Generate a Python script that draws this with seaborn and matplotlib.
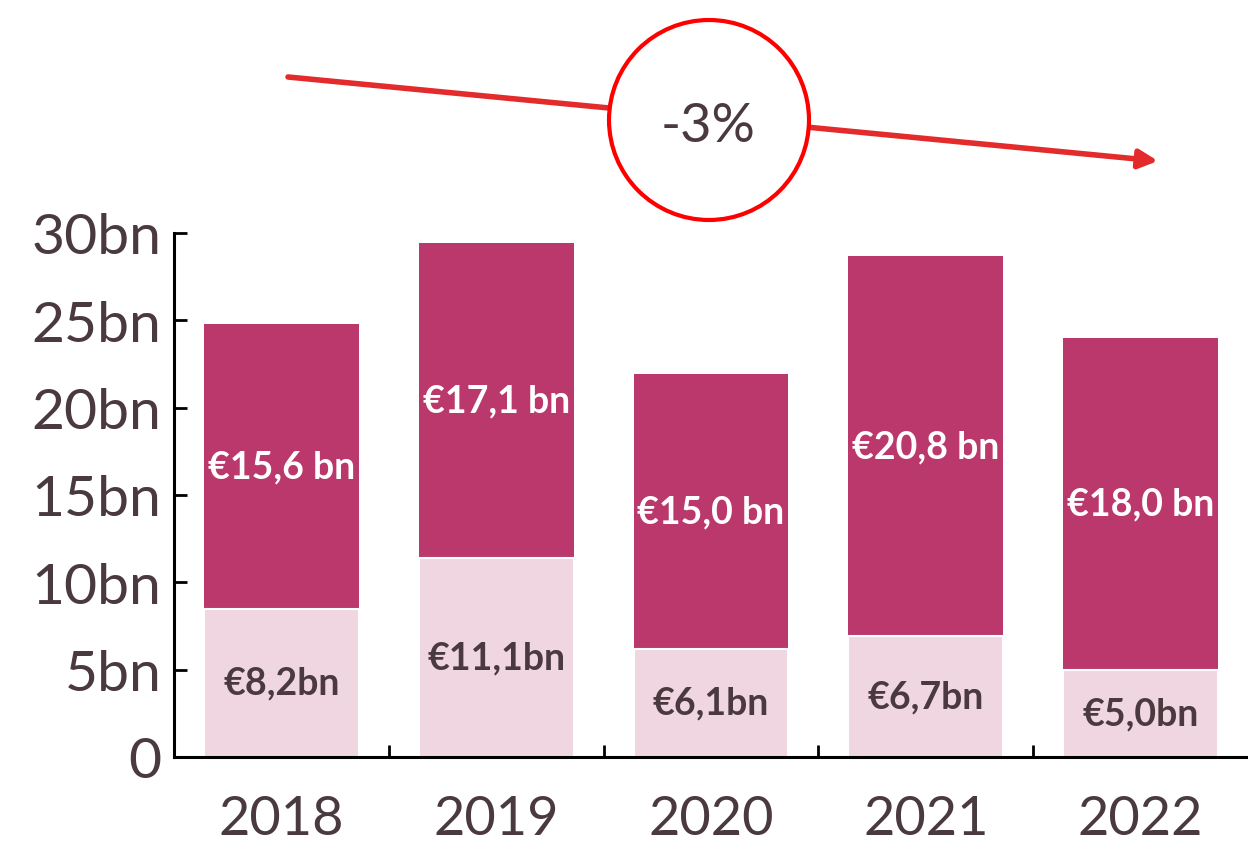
import matplotlib
matplotlib.use("Agg")
import matplotlib.pyplot as plt
import seaborn as sns
import pandas as pd
from matplotlib.patches import Ellipse

# data
years = ["2018", "2019", "2020", "2021", "2022"]
lower_vals = [8.5, 11.4, 6.2, 6.9, 5.0]
upper_vals = [16.3, 18.0, 15.7, 21.8, 19.0]
lower_labels = ["€8,2bn", "€11,1bn", "€6,1bn", "€6,7bn", "€5,0bn"]
upper_labels = ["€15,6 bn", "€17,1 bn", "€15,0 bn", "€20,8 bn", "€18,0 bn"]
ytick_vals = [0, 5, 10, 15, 20, 25, 30]
ytick_labels = ["0", "5bn", "10bn", "15bn", "20bn", "25bn", "30bn"]
trend_label = "-3%"

MAGENTA = "#BA386B"
PINK = "#F0D6E0"
TEXT = "#4A3A40"

sns.set_style("white")
plt.rcParams["font.family"] = ["Lato", "DejaVu Sans"]

df = pd.DataFrame({"year": years, "lower": lower_vals, "upper": upper_vals})
df["total"] = df["lower"] + df["upper"]

fig = plt.figure(figsize=(12.48, 8.45), dpi=100)
ax = fig.add_axes([174 / 1248, 1 - 758 / 845, 1 - 174 / 1248, (758 - 234) / 845])

sns.barplot(data=df, x="year", y="total", color=MAGENTA, saturation=1,
            width=0.72, ax=ax, edgecolor="none")
sns.barplot(data=df, x="year", y="lower", color=PINK, saturation=1,
            width=0.72, ax=ax, edgecolor="white", linewidth=1.5)

ax.set_xlim(-0.5, 4.5)
ax.set_ylim(0, 30)
ax.set_xlabel("")
ax.set_ylabel("")

# segment labels
for i, row in df.iterrows():
    ax.text(i, row["lower"] / 2, lower_labels[i], ha="center", va="center",
            color=TEXT, fontsize=27, fontweight="bold")
    ax.text(i, row["lower"] + row["upper"] / 2, upper_labels[i], ha="center",
            va="center", color="white", fontsize=27, fontweight="bold")

# axes styling
for s in ["top", "right"]:
    ax.spines[s].set_visible(False)
for s in ["left", "bottom"]:
    ax.spines[s].set_color("black")
    ax.spines[s].set_linewidth(2.2)

ax.set_yticks(ytick_vals)
ax.set_yticklabels(ytick_labels)
ax.tick_params(axis="y", direction="in", length=9, width=2, color="black",
               labelsize=41, labelcolor=TEXT, pad=9, left=True)
ax.set_xticks(range(len(years)))
ax.set_xticklabels(years)
ax.tick_params(axis="x", which="major", length=0, labelsize=39,
               labelcolor=TEXT, pad=27)
ax.set_xticks([0.5, 1.5, 2.5, 3.5], minor=True)
ax.tick_params(axis="x", which="minor", direction="in", length=9, width=2,
               color="black", bottom=True)

# trend arrow and circle
ax.annotate("", xy=(1158 / 1248, 1 - 162 / 845), xycoords="figure fraction",
            xytext=(288 / 1248, 1 - 78 / 845), textcoords="figure fraction",
            arrowprops=dict(arrowstyle="-|>", color="#E32B2B", lw=4,
                            mutation_scale=28, shrinkA=0, shrinkB=0),
            annotation_clip=False)
circle = Ellipse((709 / 1248, 1 - 121 / 845), 200 / 1248, 200 / 845,
                 transform=fig.transFigure, facecolor="white",
                 edgecolor="#FF0000", linewidth=3, zorder=5)
fig.patches.append(circle)
fig.text(708 / 1248, 1 - 126 / 845, trend_label, ha="center", va="center",
         fontsize=39, color=TEXT, zorder=6)

fig.savefig("out.png", dpi=100)
